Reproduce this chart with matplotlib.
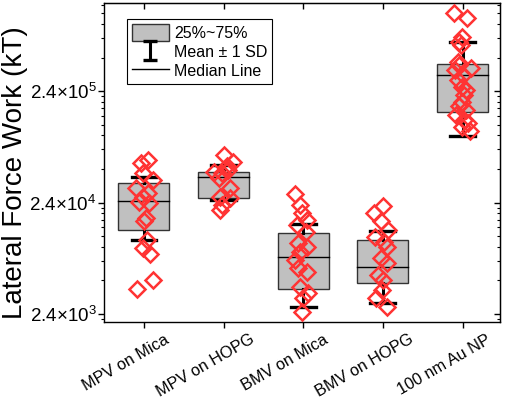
import matplotlib
matplotlib.use('Agg')
import matplotlib.pyplot as plt
import matplotlib.transforms as mtransforms
from matplotlib.patches import Rectangle, Patch
from matplotlib.lines import Line2D
from matplotlib.ticker import FixedLocator, FixedFormatter, NullFormatter
from matplotlib.legend_handler import HandlerErrorbar
import numpy as np

plt.rcParams['font.family'] = ['Liberation Sans', 'DejaVu Sans']
plt.rcParams['mathtext.fontset'] = 'custom'
plt.rcParams['mathtext.rm'] = 'Liberation Sans'

categories = ['MPV on Mica', 'MPV on HOPG', 'BMV on Mica', 'BMV on HOPG', '100 nm Au NP']

# box statistics (kT)
q1 = [13.6e3, 26.2e3, 4.02e3, 4.58e3, 156e3]
median = [24.8e3, 40.4e3, 7.74e3, 6.3e3, 334e3]
q3 = [35.7e3, 45.3e3, 12.7e3, 11.1e3, 425e3]
sd_low = [11.1e3, 25.3e3, 2.79e3, 3.03e3, 94.8e3]
sd_high = [40.9e3, 52.1e3, 15.3e3, 13.4e3, 664e3]

# single measurements and their horizontal jitter
mpv_mica = [57.7e3, 54.3e3, 44.1e3, 38.2e3, 32.4e3, 29.2e3, 26.9e3, 24.3e3,
            23.8e3, 17.4e3, 16.4e3, 11.1e3, 9.4e3, 8.3e3, 4.84e3, 4.02e3]
mpv_mica_dx = [0.05, -0.04, -0.01, 0.11, -0.10, 0.05, -0.01, -0.06,
               0.06, 0.03, 0.0, 0.04, -0.01, 0.08, 0.11, -0.09]

mpv_hopg = [64.0e3, 55.7e3, 51.0e3, 47.0e3, 45.3e3, 44.1e3, 39.8e3, 32.4e3,
            27.0e3, 26.3e3, 22.8e3, 20.5e3]
mpv_hopg_dx = [0.0, 0.12, 0.04, 0.06, -0.12, -0.02, -0.06, 0.08,
               -0.04, 0.08, -0.02, -0.05]

bmv_mica = [28.6e3, 22.8e3, 19.3e3, 16.7e3, 15.1e3, 13.0e3, 10.4e3, 9.6e3,
            8.6e3, 7.3e3, 6.2e3, 5.7e3, 4.19e3, 3.70e3, 3.34e3, 2.50e3]
bmv_mica_dx = [-0.10, -0.04, -0.01, 0.05, -0.08, 0.04, -0.06, 0.05,
               -0.04, -0.10, -0.06, 0.05, -0.04, 0.06, 0.0, -0.01]

bmv_hopg = [22.3e3, 19.3e3, 16.4e3, 13.6e3, 11.8e3, 10.6e3, 9.6e3, 7.6e3,
            6.9e3, 5.4e3, 4.84e3, 3.94e3, 3.34e3, 2.77e3]
bmv_hopg_dx = [0.0, -0.11, -0.02, 0.06, -0.10, 0.01, 0.05, -0.02,
               0.05, -0.06, 0.0, -0.01, -0.08, 0.05]

au_np = [1210e3, 1080e3, 737e3, 664e3, 621e3, 440e3, 411e3, 384e3, 370e3,
         334e3, 301e3, 262e3, 245e3, 221e3, 192e3, 176e3, 162e3, 146e3,
         132e3, 124e3, 115e3, 106e3]
au_np_dx = [-0.11, 0.06, -0.01, -0.04, -0.02, -0.06, -0.04, 0.11, -0.10,
            0.0, -0.06, -0.01, 0.04, 0.02, -0.01, -0.05, 0.05, -0.08,
            0.02, 0.07, -0.01, 0.09]

points = [mpv_mica, mpv_hopg, bmv_mica, bmv_hopg, au_np]
jitter = [mpv_mica_dx, mpv_hopg_dx, bmv_mica_dx, bmv_hopg_dx, au_np_dx]

box_w = 0.64
cap_w = 0.31
red = '#ff3333'
gray = '#c0c0c0'

fig = plt.figure(figsize=(5.05, 3.97), dpi=100)
ax = fig.add_axes([0.206, 0.189, 0.784, 0.803])
ax.set_yscale('log')

for i in range(len(categories)):
    x = i + 1
    ax.add_patch(Rectangle((x - box_w/2, q1[i]), box_w, q3[i] - q1[i],
                           facecolor=gray, edgecolor='#333333', lw=1.0, zorder=1))
    ax.plot([x - box_w/2, x + box_w/2], [median[i], median[i]], color='k', lw=1.0, zorder=2)
    # mean +- 1 SD whiskers
    ax.plot([x, x], [q3[i], sd_high[i]], color='k', lw=2.2, zorder=2)
    ax.plot([x, x], [q1[i], sd_low[i]], color='k', lw=2.2, zorder=2)
    ax.plot([x - cap_w/2, x + cap_w/2], [sd_high[i], sd_high[i]], color='k', lw=2.4, zorder=2)
    ax.plot([x - cap_w/2, x + cap_w/2], [sd_low[i], sd_low[i]], color='k', lw=2.4, zorder=2)
    xs = x + np.array(jitter[i])
    ax.plot(xs, points[i], 'D', ms=8.5, mfc='none', mec=red, mew=1.8, zorder=3)

ax.set_xlim(0.5, 5.47)
ax.set_ylim(2.03e3, 1.48e6)

major = [2.4e3, 2.4e4, 2.4e5]
ax.yaxis.set_major_locator(FixedLocator(major))
ax.yaxis.set_major_formatter(FixedFormatter([r'$\mathregular{2.4{\times}10^{3}}$',
                                             r'$\mathregular{2.4{\times}10^{4}}$',
                                             r'$\mathregular{2.4{\times}10^{5}}$']))
minor = [2.4 * k * 10.0**n for n in range(2, 6) for k in range(2, 10)]
ax.yaxis.set_minor_locator(FixedLocator(minor))
ax.yaxis.set_minor_formatter(NullFormatter())
ax.tick_params(axis='y', which='major', labelsize=13.5, length=4, width=1.0, direction='out', pad=1.5)
ax.tick_params(axis='y', which='minor', length=2.5, width=0.8, direction='out')
ax.tick_params(axis='x', which='major', length=4, width=1.0, direction='out', pad=3)

ax.set_xticks(range(1, 6))
ax.set_xticklabels(categories, rotation=30, ha='center', fontsize=11.7)
offset = mtransforms.ScaledTranslation(-18/100, 0, fig.dpi_scale_trans)
for lab in ax.get_xticklabels():
    lab.set_transform(lab.get_transform() + offset)

# mirrored ticks on top and right, pointing inward
ax_t = ax.secondary_xaxis('top')
ax_t.set_xticks(range(1, 6))
ax_t.tick_params(direction='in', length=4, width=1.0, labeltop=False)
ax_r = ax.secondary_yaxis('right')
ax_r.yaxis.set_major_locator(FixedLocator(major))
ax_r.yaxis.set_minor_locator(FixedLocator(minor))
ax_r.yaxis.set_major_formatter(NullFormatter())
ax_r.yaxis.set_minor_formatter(NullFormatter())
ax_r.tick_params(which='major', direction='in', length=4, width=1.0)
ax_r.tick_params(which='minor', direction='in', length=2.5, width=0.8)

for sp in ax.spines.values():
    sp.set_linewidth(1.0)

ax.set_ylabel('Lateral Force Work (kT)', fontsize=20)
ax.yaxis.set_label_coords(-0.208, 0.469)
ax.yaxis.label.set_verticalalignment('baseline')

box_handle = Patch(facecolor=gray, edgecolor='#333333', lw=1.0)
err_handle = ax.errorbar([np.nan], [np.nan], yerr=[1], fmt='none', ecolor='k',
                         elinewidth=2.2, capsize=5, capthick=2.4)
med_handle = Line2D([], [], color='k', lw=1.0)
leg = ax.legend([box_handle, err_handle, med_handle],
                ['25%~75%', 'Mean \u00b1 1 SD', 'Median Line'],
                loc='upper left', bbox_to_anchor=(0.058, 0.95), borderaxespad=0,
                fontsize=11.5, handlelength=2.3, handleheight=1.25, labelspacing=0.15,
                handletextpad=0.35, borderpad=0.3, fancybox=False, framealpha=1,
                edgecolor='k', handler_map={type(err_handle): HandlerErrorbar(yerr_size=0.6)})
leg.get_frame().set_linewidth(0.8)

fig.savefig('out.png', dpi=100)
